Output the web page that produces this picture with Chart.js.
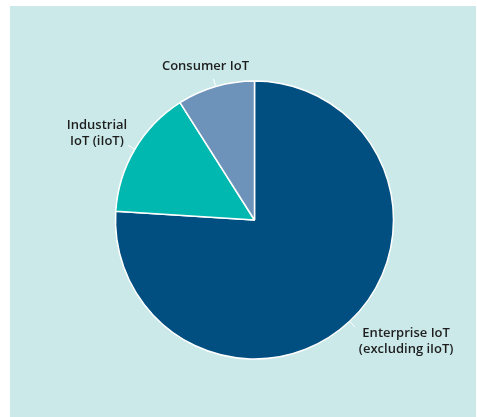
<!DOCTYPE html>
<html>
<head>
<meta charset="utf-8">
<script src="https://cdn.jsdelivr.net/npm/chart.js@4.4.0/dist/chart.umd.min.js"></script>
<style>
  html, body { margin: 0; padding: 0; background: #ffffff; }
  #wrap { position: relative; width: 477px; height: 417px; }
  #panel { position: absolute; left: 10px; top: 6px; width: 466px; height: 411px; background: #cbe9e9; }
  #chart { position: absolute; left: 0; top: 0; }
</style>
</head>
<body>
<div id="wrap">
  <div id="panel"></div>
  <canvas id="chart" width="477" height="417"></canvas>
</div>
<script>
// Data
var segments = ['Enterprise IoT (excluding iIoT)', 'Industrial IoT (iIoT)', 'Consumer IoT'];
var shares = [76, 15, 9];
var segmentColors = ['#004f80', '#00b8b0', '#6e93ba'];
var labelLines = [
  ['Enterprise IoT', '(excluding iIoT)'],
  ['Industrial', 'IoT (iIoT)'],
  ['Consumer IoT']
];
// offset of label block centre from the end of its leader line
var labelOffsets = [[51, 14], [-31, -12], [-8, -13]];

// Plugin untuk label dan garis penunjuk
var sliceLabels = {
  id: 'sliceLabels',
  afterDraw: function(chart) {
    var ctx = chart.ctx;
    var arcs = chart.getDatasetMeta(0).data;
    ctx.save();
    arcs.forEach(function(arc, i) {
      var p = arc.getProps(['x', 'y', 'startAngle', 'endAngle', 'outerRadius'], true);
      var mid = (p.startAngle + p.endAngle) / 2;
      var cos = Math.cos(mid), sin = Math.sin(mid);
      var x1 = p.x + cos * (p.outerRadius + 1), y1 = p.y + sin * (p.outerRadius + 1);
      var x2 = p.x + cos * (p.outerRadius + 8), y2 = p.y + sin * (p.outerRadius + 8);
      ctx.strokeStyle = '#ffffff';
      ctx.lineWidth = 1;
      ctx.beginPath();
      ctx.moveTo(x1, y1);
      ctx.lineTo(x2, y2);
      ctx.stroke();

      var lines = labelLines[i];
      var lh = 16.5;
      var cx = x2 + labelOffsets[i][0];
      var cy = y2 + labelOffsets[i][1] - (lines.length - 1) * lh / 2;
      ctx.fillStyle = '#1e1e1e';
      ctx.font = '600 13px "Open Sans"';
      ctx.textAlign = 'center';
      ctx.textBaseline = 'middle';
      lines.forEach(function(t, k) {
        ctx.fillText(t, cx, cy + k * lh);
      });
    });
    ctx.restore();
  }
};

new Chart(document.getElementById('chart'), {
  type: 'pie',
  data: {
    labels: segments,
    datasets: [{
      data: shares,
      backgroundColor: segmentColors,
      borderColor: '#ffffff',
      borderWidth: 1.5
    }]
  },
  options: {
    responsive: false,
    animation: false,
    radius: 139,
    layout: { padding: { left: 40, right: 8, top: 40, bottom: 17 } },
    plugins: {
      legend: { display: false },
      tooltip: { enabled: false }
    }
  },
  plugins: [sliceLabels]
});
</script>
</body>
</html>
